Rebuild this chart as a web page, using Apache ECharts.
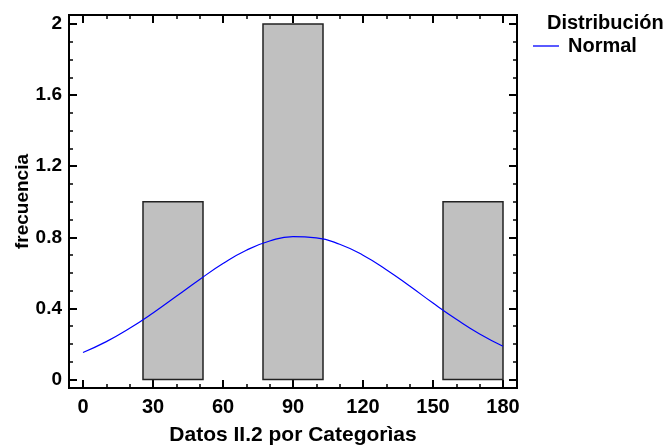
<!DOCTYPE html>
<html>
<head>
<meta charset="utf-8">
<script src="https://cdn.jsdelivr.net/npm/echarts@6/dist/echarts.min.js"></script>
<style>
  html, body { margin: 0; padding: 0; background: #fff; }
  #chart { width: 671px; height: 445px; }
</style>
</head>
<body>
<div id="chart"></div>
<script>
// Histogram classes (bounds) and counts
const classLower = [0, 25.71, 51.43, 77.14, 102.86, 128.57, 154.29];
const classUpper = [25.71, 51.43, 77.14, 102.86, 128.57, 154.29, 180];
const frequencies = [0, 1, 0, 2, 0, 0, 1];

// Fitted normal curve, sampled along the x range
const curveX = [0, 10, 20, 30, 40, 50, 60, 70, 80, 90, 100, 110, 120, 130, 140, 150, 160, 170, 180];
const curveY = [0.152, 0.213, 0.288, 0.374, 0.468, 0.563, 0.652, 0.727, 0.779, 0.804, 0.797, 0.761, 0.699, 0.618, 0.526, 0.430, 0.339, 0.256, 0.187];

// Tick positions
const xMajor = [0, 30, 60, 90, 120, 150, 180];
const xMinor = [10, 20, 40, 50, 70, 80, 100, 110, 130, 140, 160, 170];
const yMajor = [0, 0.4, 0.8, 1.2, 1.6, 2];
const yMinor = [0.1, 0.2, 0.3, 0.5, 0.6, 0.7, 0.9, 1.0, 1.1, 1.3, 1.4, 1.5, 1.7, 1.8, 1.9];

const FONT = '"Liberation Sans", Arial, sans-serif';
const X_MIN = -6, X_MAX = 186;
const Y_MIN = -0.048, Y_MAX = 2.051;

function axisDef(pos, min, max, ticks, long, labels, margin, fontSize) {
  return {
    type: 'value', position: pos, min: min, max: max,
    axisLine: { show: false, onZero: false },
    splitLine: { show: false },
    axisTick: { show: true, inside: true, length: long ? 8 : 4, customValues: ticks,
                lineStyle: { color: '#000', width: long ? 2 : 1.5 } },
    axisLabel: labels ? { show: true, customValues: ticks, color: '#000', fontFamily: FONT,
                          fontWeight: 'bold', fontSize: fontSize, margin: margin } : { show: false }
  };
}
const xAxisDef = (pos, ticks, long, labels) => axisDef(pos, X_MIN, X_MAX, ticks, long, labels, 9, 20);
const yAxisDef = (pos, ticks, long, labels) => axisDef(pos, Y_MIN, Y_MAX, ticks, long, labels, 7, 19);

const bars = classLower.map((lo, i) => [lo, classUpper[i], frequencies[i]]).filter(d => d[2] > 0);
const curve = curveX.map((x, i) => [x, curveY[i]]);

const chart = echarts.init(document.getElementById('chart'), null, { renderer: 'canvas' });
chart.setOption({
  animation: false,
  backgroundColor: '#fff',
  grid: { left: 69, right: 154, top: 15, bottom: 57, show: true, containLabel: false,
          outerBoundsMode: 'none',
          borderColor: '#000', borderWidth: 2, backgroundColor: 'transparent' },
  title: {
    text: 'Distribución', left: 547, top: 13, padding: 0,
    textStyle: { fontFamily: FONT, fontWeight: 'bold', fontSize: 20, color: '#000' }
  },
  legend: {
    left: 533, top: 36, padding: 0, itemWidth: 26, itemHeight: 1.3, icon: 'rect',
    data: ['Normal'],
    textStyle: { fontFamily: FONT, fontWeight: 'bold', fontSize: 20, color: '#000', padding: [0, 0, 0, 4] }
  },
  xAxis: [
    Object.assign(xAxisDef('bottom', xMajor, true, true), {
      name: 'Datos II.2 por Categorìas', nameLocation: 'middle', nameGap: 37, nameMoveOverlap: false,
      nameTextStyle: { fontFamily: FONT, fontWeight: 'bold', fontSize: 21, color: '#000' }
    }),
    xAxisDef('bottom', xMinor, false, false),
    xAxisDef('top', xMajor, true, false),
    xAxisDef('top', xMinor, false, false)
  ],
  yAxis: [
    Object.assign(yAxisDef('left', yMajor, true, true), {
      name: 'frecuencia', nameLocation: 'middle', nameGap: 37, nameMoveOverlap: false,
      nameTextStyle: { fontFamily: FONT, fontWeight: 'bold', fontSize: 19, color: '#000' }
    }),
    yAxisDef('left', yMinor, false, false),
    yAxisDef('right', yMajor, true, false),
    yAxisDef('right', yMinor, false, false)
  ],
  series: [
    {
      type: 'custom', name: 'frecuencia', xAxisIndex: 0, yAxisIndex: 0,
      data: bars,
      encode: { x: [0, 1], y: 2 },
      renderItem: function (params, api) {
        const p0 = api.coord([api.value(0), 0]);
        const p1 = api.coord([api.value(1), api.value(2)]);
        return {
          type: 'rect',
          shape: { x: p0[0], y: p1[1], width: p1[0] - p0[0], height: p0[1] - p1[1] },
          style: { fill: '#c0c0c0', stroke: '#222', lineWidth: 1.5 }
        };
      },
      z: 2
    },
    {
      type: 'line', name: 'Normal', xAxisIndex: 0, yAxisIndex: 0,
      data: curve, smooth: true, symbol: 'none',
      lineStyle: { color: '#0000ff', width: 1.2 },
      itemStyle: { color: '#0000ff' },
      z: 3
    }
  ]
});
</script>
</body>
</html>
